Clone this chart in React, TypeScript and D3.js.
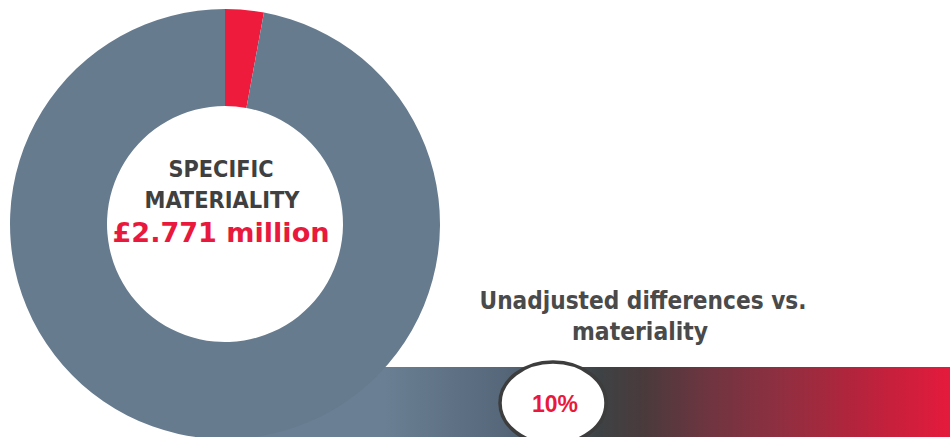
import React from "react";
import * as d3 from "d3";

const categories = ["Unadjusted differences", "Remaining materiality"];
const values = [2.9, 97.1];
const sliceColors = ["#ee1b3c", "#677b8f"];
const centerLines = ["SPECIFIC", "MATERIALITY"];
const centerValue = "£2.771 million";
const titleLines = ["Unadjusted differences vs.", "materiality"];
const thresholdLabel = "10%";
const gradientStops = [
  { offset: 0, color: "#6a7f93" },
  { offset: 0.21, color: "#56677a" },
  { offset: 0.38, color: "#3e4244" },
  { offset: 0.46, color: "#4a3a3c" },
  { offset: 0.57, color: "#6e3540" },
  { offset: 0.7, color: "#8f2f40" },
  { offset: 0.83, color: "#b3243c" },
  { offset: 1, color: "#e51a3c" },
];

const W = 950;
const H = 437;
const cx = 225;
const cy = 224;
const outerR = 215;
const innerR = 118;
const FONT = "'DejaVu Sans Condensed', 'DejaVu Sans', sans-serif";

export default function App() {
  const pie = d3
    .pie<number>()
    .sort(null)
    .value((d) => d)
    .startAngle(0)
    .endAngle(2 * Math.PI);
  const arcs = pie(values);
  const arc = d3.arc<d3.PieArcDatum<number>>().innerRadius(innerR).outerRadius(outerR);

  const barX = 225;
  const barY = 367;

  return (
    <svg
      width={W}
      height={H}
      style={{ position: "absolute", left: 0, top: 0, background: "#fff" }}
    >
      <defs>
        <linearGradient id="barGrad" gradientUnits="userSpaceOnUse" x1={385} y1={0} x2={950} y2={0}>
          {gradientStops.map((s, i) => (
            <stop key={i} offset={s.offset} stopColor={s.color} />
          ))}
        </linearGradient>
      </defs>
      <rect x={0} y={0} width={W} height={H} fill="#fff" />
      <rect x={barX} y={barY} width={W - barX} height={H - barY + 10} fill="url(#barGrad)" />
      <g transform={`translate(${cx},${cy})`}>
        {arcs.map((a, i) => (
          <path key={categories[i]} d={arc(a) || ""} fill={sliceColors[i]} />
        ))}
      </g>
      <text
        x={221}
        y={177}
        textAnchor="middle"
        fontFamily={FONT}
        fontWeight="bold"
        fontSize={23}
        fill="#404040"
        textLength={105}
        lengthAdjust="spacingAndGlyphs"
      >
        {centerLines[0]}
      </text>
      <text
        x={222}
        y={208}
        textAnchor="middle"
        fontFamily={FONT}
        fontWeight="bold"
        fontSize={23}
        fill="#404040"
        textLength={155}
        lengthAdjust="spacingAndGlyphs"
      >
        {centerLines[1]}
      </text>
      <text
        x={221}
        y={242}
        textAnchor="middle"
        fontFamily={FONT}
        fontWeight="bold"
        fontSize={27}
        fill="#e8193c"
        textLength={217}
        lengthAdjust="spacingAndGlyphs"
      >
        {centerValue}
      </text>
      <text
        x={643}
        y={309}
        textAnchor="middle"
        fontFamily={FONT}
        fontWeight="bold"
        fontSize={24}
        fill="#4a4a4a"
        textLength={327}
        lengthAdjust="spacingAndGlyphs"
      >
        {titleLines[0]}
      </text>
      <text
        x={640}
        y={340}
        textAnchor="middle"
        fontFamily={FONT}
        fontWeight="bold"
        fontSize={24}
        fill="#4a4a4a"
        textLength={136}
        lengthAdjust="spacingAndGlyphs"
      >
        {titleLines[1]}
      </text>
      <ellipse cx={553} cy={403} rx={53} ry={41} fill="#fff" stroke="#3d3d3d" strokeWidth={3.5} />
      <text
        x={555}
        y={412}
        textAnchor="middle"
        fontFamily="'Liberation Sans', Arial, sans-serif"
        fontWeight="bold"
        fontSize={24}
        fill="#e8193c"
        textLength={46}
        lengthAdjust="spacingAndGlyphs"
      >
        {thresholdLabel}
      </text>
    </svg>
  );
}
